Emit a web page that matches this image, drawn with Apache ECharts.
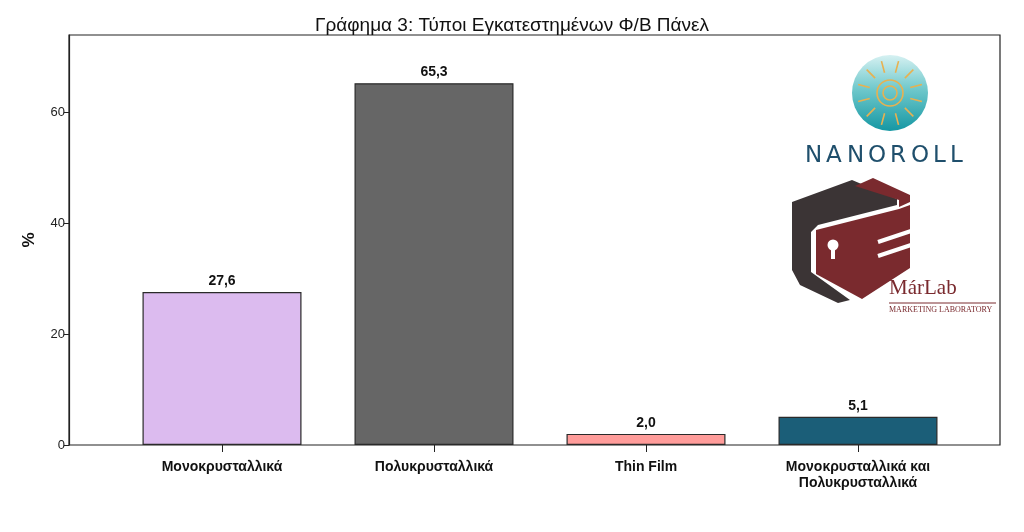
<!DOCTYPE html>
<html>
<head>
<meta charset="utf-8">
<script src="https://cdn.jsdelivr.net/npm/echarts@6/dist/echarts.min.js"></script>
<style>
  html, body { margin: 0; padding: 0; background: #fff; }
  #chart { width: 1024px; height: 532px; }
</style>
</head>
<body>
<div id="chart"></div>
<script>
// data
var categories = ['Μονοκρυσταλλικά', 'Πολυκρυσταλλικά', 'Thin Film', 'Μονοκρυσταλλικά και\nΠολυκρυσταλλικά']
var values = [27.6, 65.3, 2.0, 5.1]
var barColors = ['#dcbbef', '#666666', '#ff9c9a', '#1b5e78']
var yTicks = [0, 20, 40, 60]

var sans = '"Liberation Sans", Arial, sans-serif'

var chart = echarts.init(document.getElementById('chart'))

// logo decorations (sun rays for the nanoroll circle)
var rays = []
for (var k = 0; k < 12; k++) {
    var a = k * Math.PI / 6 + Math.PI / 12
    rays.push({
        type: 'line',
        z: 11,
        shape: {
            x1: 890 + Math.cos(a) * 21, y1: 93 + Math.sin(a) * 21,
            x2: 890 + Math.cos(a) * 33, y2: 93 + Math.sin(a) * 33
        },
        style: { stroke: '#e8b150', lineWidth: 1.6 }
    })
}
var nanoWidths = [21, 21, 21, 22, 21, 22, 17, 17]
var nanoX = 805
var nanoLetters = 'NANOROLL'.split('').map(function (ch, i) {
    var el = {
        type: 'text',
        z: 10,
        style: { text: ch, x: nanoX, y: 145, fill: '#1f4f6c', font: '500 23px "DejaVu Sans", sans-serif' }
    }
    nanoX += nanoWidths[i]
    return el
})

chart.setOption({
    animation: false,
    title: {
        text: 'Γράφημα 3: Τύποι Εγκατεστημένων Φ/Β Πάνελ',
        left: 'center',
        top: 11,
        textStyle: { fontFamily: sans, fontSize: 19, fontWeight: 'normal', color: '#111' }
    },
    grid: [
        // frame + y axis
        { left: 69, right: 24, top: 35, bottom: 87, show: true, borderColor: '#222', borderWidth: 1.2, backgroundColor: '#fff' },
        // bars
        { left: 116, right: 60, top: 35, bottom: 87 }
    ],
    xAxis: [
        { gridIndex: 0, type: 'value', min: 0, max: 1, show: false },
        {
            gridIndex: 1,
            type: 'category',
            data: categories,
            axisLine: { show: false },
            axisTick: { show: true, alignWithLabel: true, length: 7, lineStyle: { color: '#222' } },
            axisLabel: {
                margin: 14,
                fontFamily: sans,
                fontSize: 14,
                fontWeight: 'bold',
                color: '#111',
                lineHeight: 16
            }
        }
    ],
    yAxis: [
        {
            gridIndex: 0,
            type: 'value',
            min: 0,
            max: 74,
            interval: 20,
            name: '%',
            nameLocation: 'middle',
            nameGap: 31,
            nameRotate: 90,
            nameTextStyle: { fontFamily: sans, fontSize: 17, fontWeight: 'bold', color: '#111' },
            splitLine: { show: false },
            axisLine: { show: true, lineStyle: { color: '#222', width: 1.2 } },
            axisTick: { show: true, length: 5, customValues: yTicks, lineStyle: { color: '#222' } },
            axisLabel: { customValues: yTicks, margin: 4, fontFamily: sans, fontSize: 13, color: '#222' }
        },
        { gridIndex: 1, type: 'value', min: 0, max: 74, show: false }
    ],
    series: [
        {
            type: 'bar',
            xAxisIndex: 1,
            yAxisIndex: 1,
            barCategoryGap: '25%',
            data: values.map(function (v, i) {
                return { value: v, itemStyle: { color: barColors[i] } }
            }),
            itemStyle: { borderColor: '#2a2a2a', borderWidth: 1.2 },
            label: {
                show: true,
                position: 'top',
                distance: 4,
                fontFamily: sans,
                fontSize: 14,
                fontWeight: 'bold',
                color: '#111',
                formatter: function (p) {
                    return p.value.toFixed(1).replace('.', ',')
                }
            }
        }
    ],
    graphic: [
        // NANOROLL logo
        {
            type: 'circle',
            z: 10,
            shape: { cx: 890, cy: 93, r: 38 },
            style: {
                fill: new echarts.graphic.LinearGradient(0, 0, 0, 1, [
                    { offset: 0, color: '#d6f1f2' },
                    { offset: 0.45, color: '#6fc8cb' },
                    { offset: 1, color: '#1597a3' }
                ])
            }
        },
        { type: 'circle', z: 11, shape: { cx: 890, cy: 93, r: 13 }, style: { fill: 'none', stroke: '#e8b150', lineWidth: 1.6 } },
        { type: 'circle', z: 11, shape: { cx: 890, cy: 93, r: 7 }, style: { fill: 'none', stroke: '#e8b150', lineWidth: 1.6 } }
    ].concat(rays, nanoLetters, [
        // MarLab logo
        {
            type: 'polygon',
            z: 10,
            shape: { points: [[792, 202], [852, 180], [897, 199], [897, 205], [818, 225], [811, 232], [811, 272], [850, 300], [838, 303], [800, 285], [792, 270]] },
            style: { fill: '#3b3435' }
        },
        {
            type: 'polygon',
            z: 10,
            shape: { points: [[855, 186], [873, 178], [910, 195], [910, 202], [899, 207], [899, 200]] },
            style: { fill: '#7a2a2e' }
        },
        {
            type: 'polygon',
            z: 10,
            shape: { points: [[816, 230], [899, 209], [910, 205], [910, 268], [862, 299], [816, 274]] },
            style: { fill: '#7a2a2e' }
        },
        { type: 'line', z: 11, shape: { x1: 878, y1: 242, x2: 911, y2: 231 }, style: { stroke: '#fff', lineWidth: 4 } },
        { type: 'line', z: 11, shape: { x1: 878, y1: 256, x2: 911, y2: 245 }, style: { stroke: '#fff', lineWidth: 4 } },
        { type: 'circle', z: 11, shape: { cx: 833, cy: 245, r: 5.5 }, style: { fill: '#fff' } },
        { type: 'rect', z: 11, shape: { x: 831, y: 247, width: 4, height: 12 }, style: { fill: '#fff' } },
        {
            type: 'text',
            left: 889,
            top: 278,
            z: 12,
            style: { text: 'MárLab', fill: '#7a2a2e', font: '21px "Liberation Serif", serif' }
        },
        { type: 'line', z: 12, shape: { x1: 889, y1: 303, x2: 996, y2: 303 }, style: { stroke: '#7a2a2e', lineWidth: 1 } },
        {
            type: 'text',
            left: 889,
            top: 306,
            z: 12,
            style: { text: 'MARKETING LABORATORY', fill: '#7a2a2e', font: '8px "Liberation Serif", serif' }
        }
    ])
})
</script>
</body>
</html>
